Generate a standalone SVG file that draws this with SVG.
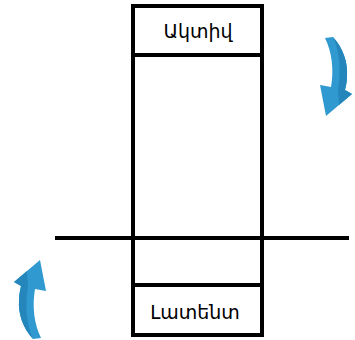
<svg xmlns="http://www.w3.org/2000/svg" width="355" height="340" viewBox="0 0 355 340">
<style>
.ln{stroke:#000;stroke-width:4;fill:none}
.lbl{font-family:"DejaVu Sans","Noto Sans",sans-serif;font-size:19px;fill:#000;text-anchor:middle}
.arw{fill:#3099CF}
.sh{fill:#2586BC}
</style>
<defs>
<g id="curvedArrow">
<path class="arw" d="M325,38 L333,37 C343,48 348,62 347,76 C347,81 346,86 345,90 L352,94 L326,116 L320,85 L331,87 C334,70 332,52 325,38 Z"/>
<path class="sh" d="M333,37 C343,48 348,62 347,76 C347,81 346,86 345,90 L352,94 L339,105 L338,90 C341,72 340,52 333,37 Z"/>
</g>
</defs>
<rect width="355" height="340" fill="#fff"/>
<g id="connectors">
<line class="ln" x1="55" y1="238" x2="349" y2="238"/>
<use href="#curvedArrow"/>
<use href="#curvedArrow" transform="translate(366,376) scale(-1,-1)"/>
</g>
<g id="column">
<rect class="ln" x="133" y="6" width="129" height="329"/>
</g>
<g id="aktiv">
<line class="ln" x1="133" y1="55" x2="262" y2="55"/>
<text class="lbl" x="198" y="38">Ակտիվ</text>
</g>
<g id="latent">
<line class="ln" x1="133" y1="285" x2="262" y2="285"/>
<text class="lbl" x="195" y="319">Լատենտ</text>
</g>
</svg>
